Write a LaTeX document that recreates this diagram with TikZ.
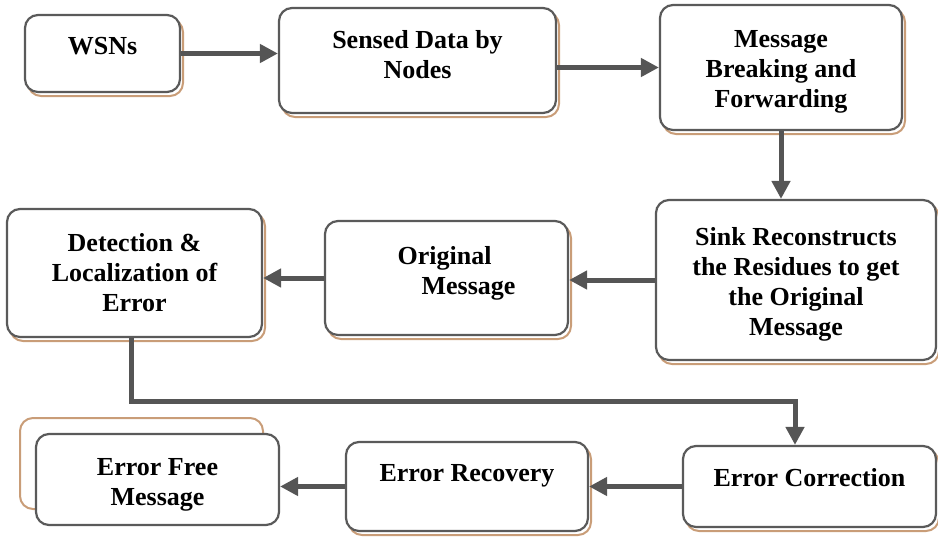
\documentclass[tikz,border=0pt]{standalone}
\usepackage{fontspec}
\setmainfont{Liberation Serif}
\usetikzlibrary{positioning, arrows.meta, calc, shadows}

\definecolor{boxgray}{RGB}{90,90,90}
\definecolor{arrowgray}{RGB}{85,85,85}
\definecolor{shadowtan}{RGB}{201,157,120}

% invisible struts to nudge text up (extra depth) or down (extra height)
\newcommand{\dn}[1]{\rule[-#1]{0pt}{#1}}
\newcommand{\up}[1]{\rule{0pt}{#1}}

\begin{document}
\begin{tikzpicture}[
    x=1pt, y=-1pt,
    box/.style={rectangle, rounded corners=13pt, draw=boxgray, line width=2.2pt, fill=white,
        inner sep=0pt, align=center, font=\bfseries\fontsize{26}{30}\selectfont},
    tanshade/.style={general shadow={shadow xshift=3pt, shadow yshift=-4pt, draw=shadowtan, fill=none, line width=2pt}},
    tanback/.style={general shadow={shadow xshift=-16pt, shadow yshift=16pt, draw=shadowtan, fill=none, line width=2pt}},
    flow/.style={draw=arrowgray, line width=5pt, -{Triangle[length=18pt, width=18pt]}}
]
    \useasboundingbox (0,0) rectangle (938,538);

    % Boxes
    \node[box, tanshade, minimum width=155pt, minimum height=77pt] (wsn) at (102.5,53.5) {WSNs\dn{16pt}};
    \node[box, tanshade, minimum width=277pt, minimum height=105pt] (sensed) at (417.5,60.5) {Sensed Data by\\Nodes\dn{12pt}};
    \node[box, tanshade, minimum width=242pt, minimum height=125pt] (msg) at (781,67.5) {\up{26pt}Message\\Breaking and\\Forwarding};
    \node[box, tanshade, minimum width=280pt, minimum height=160pt] (sink) at (796,280) {\up{27pt}Sink Reconstructs\\the Residues to get\\the Original\\Message};
    \node[box, tanshade, minimum width=243pt, minimum height=114pt, align=left] (orig) at (446.5,278) {\hspace{20pt}Original\\\hspace{44pt}Message\dn{15pt}};
    \node[box, tanshade, minimum width=255pt, minimum height=128pt] (detect) at (134.5,273) {Detection \&\\Localization of\\Error};
    \node[box, tanshade, minimum width=253pt, minimum height=81pt] (correct) at (809.5,486.5) {Error Correction\dn{18pt}};
    \node[box, tanshade, minimum width=242pt, minimum height=89pt] (recover) at (467,486.5) {Error Recovery\dn{27pt}};
    \node[box, tanback, minimum width=243pt, minimum height=91pt] (free) at (157.5,479.5) {\up{28pt}Error Free\\Message};

    % Connectors
    \coordinate (bend) at (795,401);
    \draw[flow] (wsn.east) -- (sensed.west |- wsn.east);
    \draw[flow] (sensed.east |- msg.west) -- (msg.west);
    \draw[flow] (msg.south) -- (msg.south |- sink.north);
    \draw[flow] (sink.west) -- (orig.east |- sink.west);
    \draw[flow] (orig.west) -- (detect.east |- orig.west);
    \draw[flow] ($(detect.south)+(-3,0)$) |- (bend) -- (bend |- correct.north);
    \draw[flow] (correct.west) -- (recover.east |- correct.west);
    \draw[flow] (recover.west) -- (free.east |- recover.west);
\end{tikzpicture}
\end{document}
